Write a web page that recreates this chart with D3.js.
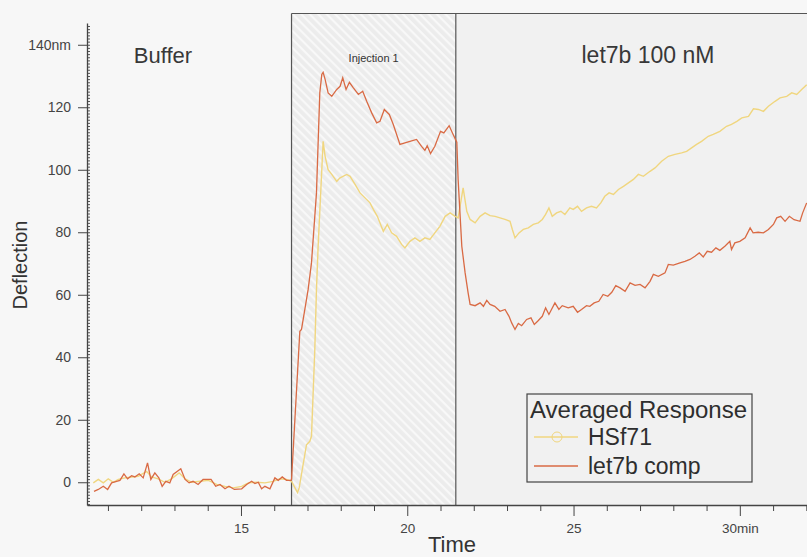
<!DOCTYPE html>
<html>
<head>
<meta charset="utf-8">
<script src="https://cdn.jsdelivr.net/npm/d3@7"></script>
<style>
  html, body { margin: 0; padding: 0; background: #f7f7f7; }
  svg { display: block; font-family: "Liberation Sans", Arial, sans-serif; }
</style>
</head>
<body>
<svg id="chart" width="807" height="557"></svg>
<script>
// HSf71 (yellow) - time in min, deflection in nm
const hsf71Time = [10.56,10.71,10.86,11.01,11.16,11.31,11.51,11.71,11.91,12.16,12.31,12.51,12.71,12.91,13.14,13.32,13.52,13.77,14.02,14.27,14.52,14.77,15.02,15.22,15.47,15.72,15.97,16.17,16.37,16.52,16.70,16.75,16.97,17.07,17.12,17.22,17.27,17.32,17.43,17.47,17.53,17.62,17.73,17.88,17.98,18.18,18.28,18.43,18.58,18.73,18.88,18.98,19.10,19.28,19.40,19.53,19.68,19.83,19.93,20.08,20.23,20.38,20.53,20.68,20.83,20.98,21.14,21.29,21.44,21.53,21.68,21.79,21.89,22.04,22.19,22.34,22.49,22.64,22.79,22.94,23.09,23.16,23.24,23.36,23.49,23.64,23.79,23.94,24.06,24.16,24.26,24.36,24.49,24.62,24.74,24.89,24.99,25.12,25.24,25.39,25.54,25.69,25.82,25.94,26.07,26.20,26.35,26.50,26.65,26.80,26.95,27.10,27.30,27.45,27.65,27.85,28.05,28.25,28.40,28.55,28.70,28.85,29.05,29.20,29.40,29.60,29.75,29.91,30.06,30.26,30.41,30.56,30.71,30.86,31.06,31.21,31.41,31.56,31.71,31.86,32.01];
const hsf71Values = [-0.2,0.9,-0.2,1.1,0,0.9,1.4,1.7,1.9,3.5,1.7,1.1,0,1.1,3.0,1.1,0,0.3,0.6,-0.7,-1.3,-1.8,-1.3,-0.2,0,-0.2,0.3,1.1,0.9,0.3,-3.3,-1.8,12,13.1,14.7,42.5,61.7,75.5,100,109.1,104.3,100,98.5,96.3,97.4,98.5,97.9,95.3,92.6,91,89.4,87.3,85.1,80.3,82.5,79.8,78.7,76.1,75,77.1,78.2,77.1,78.2,77.7,79.8,81.9,85.1,86.2,85.1,84.6,94.2,86.7,84.1,83,85.1,86.2,85.3,85.1,84.6,84.1,83.5,80.9,78.2,79.8,80.9,81.4,82.5,83,84.1,85.7,87.8,85.1,86.2,86.7,85.7,87.8,87.3,88.3,86.7,87.8,88.3,87.8,89.4,91.5,92.6,92.1,93.7,94.7,95.8,96.9,98.5,97.9,99.5,100.6,102.7,104.3,104.9,105.4,105.9,107,108.1,109.1,110.7,111.3,112.3,113.9,114.5,115.5,116.6,117.1,119.5,119.3,118.7,120.3,121.9,123,123.5,124.6,124.1,125.7,127.2];

// let7b comp (red)
const let7bTime = [10.58,10.71,10.86,10.99,11.11,11.26,11.36,11.48,11.59,11.71,11.81,11.94,12.06,12.19,12.29,12.41,12.53,12.63,12.74,12.86,12.96,13.19,13.32,13.44,13.56,13.71,13.86,14.10,14.24,14.37,14.52,14.64,14.80,15.02,15.17,15.32,15.42,15.52,15.62,15.72,15.87,16.02,16.12,16.24,16.37,16.50,16.52,16.77,16.82,17.02,17.12,17.27,17.37,17.43,17.47,17.53,17.62,17.73,17.88,17.98,18.06,18.16,18.26,18.38,18.53,18.66,18.78,18.93,19.08,19.18,19.31,19.46,19.58,19.68,19.78,19.93,20.08,20.28,20.43,20.53,20.60,20.70,20.83,21.00,21.10,21.26,21.38,21.49,21.53,21.64,21.74,21.83,21.89,22.04,22.19,22.29,22.39,22.49,22.63,22.79,22.94,23.06,23.14,23.24,23.34,23.44,23.59,23.72,23.82,23.92,24.06,24.16,24.26,24.44,24.56,24.66,24.84,24.99,25.12,25.24,25.39,25.49,25.62,25.76,25.89,26.03,26.15,26.27,26.40,26.55,26.70,26.85,27.00,27.15,27.30,27.40,27.55,27.75,27.85,28.00,28.20,28.35,28.50,28.65,28.78,28.90,29.02,29.15,29.28,29.40,29.55,29.70,29.75,29.85,30.00,30.16,30.31,30.40,30.55,30.71,30.86,31.01,31.11,31.23,31.36,31.49,31.63,31.81,31.89,32.01];
const let7bValues = [-2.9,-2.3,-1.3,-2.3,-0.2,0.3,0.6,2.7,1.1,2.1,1.7,2.7,1.4,6.2,0.9,3.0,1.4,-1.3,0.3,-0.2,2.5,4.3,0.9,-0.2,0.3,-0.7,0.9,0.9,-1.3,-0.7,-2.1,-1.3,-2.3,-2.1,-0.7,0.3,-0.4,0,-2.1,-1.3,-2.1,1.4,0.6,1.7,0.6,0.6,0.9,48.3,48.9,61.7,70.2,92.6,124.6,130.5,131.2,128.9,124.6,123.5,125.7,126.7,129.4,125.7,128,126.2,124.1,125.1,121.9,118.2,115,115.5,119.3,117.7,114.5,111.3,108.1,108.6,109.1,109.7,107.5,106.2,107.7,105.2,107.5,112.3,111.8,114.1,111.3,108.8,96.8,75.5,67,60.6,56.9,56.5,57.4,56.3,58.2,56.9,56.3,54.7,55.3,53.1,51,48.9,50.8,50.1,52.1,52.6,50.5,51.5,53.1,55.8,53.7,57.4,55.3,56.5,55.8,56.3,54.4,55.3,56.5,56.3,57.4,57.9,60.1,59.5,60.8,62.9,62.2,61.1,63.8,63.0,63.3,62.2,64.3,66.5,65.9,67,69.7,69.5,70.2,70.7,71.3,72.3,73.4,72.1,73.9,73.6,75,74.2,75.5,77.1,74.5,76.6,77.1,78.2,81.4,79.8,80,79.8,80.9,82.5,84.6,85.1,83.5,85.1,84,83.5,86.2,89.4];

const yMajorTicks = [0, 20, 40, 60, 80, 100, 120, 140];
const xMajorTicks = [15, 20, 25, 30];
const phases = [
  { name: "Injection 1", start: 16.52, end: 21.46 },
  { name: "let7b 100 nM", start: 21.46, end: 33 }
];
const seriesNames = ["HSf71", "let7b comp"];
const colors = { "HSf71": "#f0d67f", "let7b comp": "#d96a44" };

const svg = d3.select("#chart");

const x = d3.scaleLinear().domain([10.37, 32.02]).range([87, 807]);
const y = d3.scaleLinear().domain([-7.28, 146.96]).range([505, 23]);

// Hatch pattern for the injection phase
const defs = svg.append("defs");
const pat = defs.append("pattern")
  .attr("id", "hatch")
  .attr("patternUnits", "userSpaceOnUse")
  .attr("width", 6).attr("height", 6)
  .attr("patternTransform", "rotate(45)");
pat.append("rect").attr("width", 6).attr("height", 6).attr("fill", "#ececec");
pat.append("rect").attr("width", 6).attr("height", 2.2).attr("fill", "#f8f8f8");

defs.append("clipPath").attr("id", "clip")
  .append("rect").attr("x", 87).attr("y", 0).attr("width", 720).attr("height", 505);

// Phase backgrounds
const frameTop = y(150);
svg.append("rect")
  .attr("x", x(phases[1].start)).attr("y", frameTop)
  .attr("width", x(phases[1].end) - x(phases[1].start)).attr("height", y.range()[0] - frameTop)
  .attr("fill", "#f1f1f1");
svg.append("rect")
  .attr("x", x(phases[0].start)).attr("y", frameTop)
  .attr("width", x(phases[0].end) - x(phases[0].start)).attr("height", y.range()[0] - frameTop)
  .attr("fill", "url(#hatch)");

// Phase borders
svg.append("line").attr("x1", x(phases[0].start)).attr("x2", 807)
  .attr("y1", frameTop).attr("y2", frameTop).attr("stroke", "#555").attr("stroke-width", 1.2);
[phases[0].start, phases[1].start].forEach(t => {
  svg.append("line").attr("x1", x(t)).attr("x2", x(t))
    .attr("y1", frameTop).attr("y2", 505).attr("stroke", "#555").attr("stroke-width", 1.2);
});

// Phase labels
svg.append("text").attr("x", 163).attr("y", 63).attr("text-anchor", "middle")
  .attr("font-size", 22).attr("fill", "#383838").text("Buffer");
svg.append("text").attr("x", (x(phases[0].start) + x(phases[0].end)) / 2).attr("y", 62)
  .attr("text-anchor", "middle").attr("font-size", 11).attr("fill", "#333").text(phases[0].name);
svg.append("text").attr("x", 648).attr("y", 63).attr("text-anchor", "middle")
  .attr("font-size", 23).attr("fill", "#383838").text(phases[1].name);

// Lines
const line = d3.line().x(d => x(d[0])).y(d => y(d[1]));
const plot = svg.append("g").attr("clip-path", "url(#clip)");
plot.append("path").datum(d3.zip(hsf71Time, hsf71Values))
  .attr("d", line).attr("fill", "none").attr("stroke", colors["HSf71"]).attr("stroke-width", 1.4);
plot.append("path").datum(d3.zip(let7bTime, let7bValues))
  .attr("d", line).attr("fill", "none").attr("stroke", colors["let7b comp"]).attr("stroke-width", 1.3);

// Y axis
const yMinor = d3.range(-7, 147, 1);
svg.append("g").attr("transform", "translate(87,0)")
  .call(d3.axisRight(y).tickValues(yMinor).tickSize(3).tickFormat("").tickSizeOuter(0))
  .call(g => g.select(".domain").remove())
  .selectAll("line").attr("stroke", "#555");
const yAxis = svg.append("g").attr("transform", "translate(87,0)")
  .call(d3.axisLeft(y).tickValues(yMajorTicks).tickSize(9).tickSizeOuter(0)
    .tickFormat(d => d === 140 ? "140nm" : d));
yAxis.select(".domain").attr("stroke", "#444").attr("stroke-width", 1.3);
yAxis.selectAll("line").attr("stroke", "#444");
yAxis.selectAll("text").attr("font-size", 14).attr("fill", "#444")
  .attr("font-family", "Liberation Sans, Arial, sans-serif").attr("x", -16);

// X axis
const xMinor = d3.range(11, 33, 1).filter(d => !xMajorTicks.includes(d));
svg.append("g").attr("transform", "translate(0,505)")
  .call(d3.axisBottom(x).tickValues(xMinor).tickSize(6).tickFormat("").tickSizeOuter(0))
  .call(g => g.select(".domain").remove())
  .selectAll("line").attr("stroke", "#444");
const xAxis = svg.append("g").attr("transform", "translate(0,505)")
  .call(d3.axisBottom(x).tickValues(xMajorTicks).tickSize(11).tickSizeOuter(0)
    .tickFormat(d => d === 30 ? "30min" : d));
xAxis.select(".domain").attr("stroke", "#444").attr("stroke-width", 1.3);
xAxis.selectAll("line").attr("stroke", "#444");
xAxis.selectAll("text").attr("font-size", 13.5).attr("fill", "#444")
  .attr("font-family", "Liberation Sans, Arial, sans-serif").attr("y", 18);

// Axis titles
svg.append("text").attr("x", 452).attr("y", 552).attr("text-anchor", "middle")
  .attr("font-size", 22).attr("fill", "#333").text("Time");
svg.append("text").attr("transform", "translate(27,265) rotate(-90)")
  .attr("text-anchor", "middle").attr("font-size", 20).attr("fill", "#333").text("Deflection");

// Legend
const lg = svg.append("g").attr("transform", "translate(527,394)");
lg.append("rect").attr("width", 225).attr("height", 88)
  .attr("fill", "none").attr("stroke", "#444").attr("stroke-width", 1.2);
lg.append("text").attr("x", 3).attr("y", 24).attr("font-size", 24).attr("fill", "#2e2e2e")
  .text("Averaged Response");
seriesNames.forEach((name, i) => {
  const yy = 43 + i * 29;
  lg.append("line").attr("x1", 7).attr("x2", 51).attr("y1", yy).attr("y2", yy)
    .attr("stroke", colors[name]).attr("stroke-width", 1.3);
  if (i === 0) {
    lg.append("circle").attr("cx", 30).attr("cy", yy).attr("r", 5)
      .attr("fill", "none").attr("stroke", colors[name]).attr("stroke-width", 1);
  }
  lg.append("text").attr("x", 61).attr("y", yy + 8).attr("font-size", 23).attr("fill", "#2e2e2e")
    .text(name);
});
</script>
</body>
</html>
